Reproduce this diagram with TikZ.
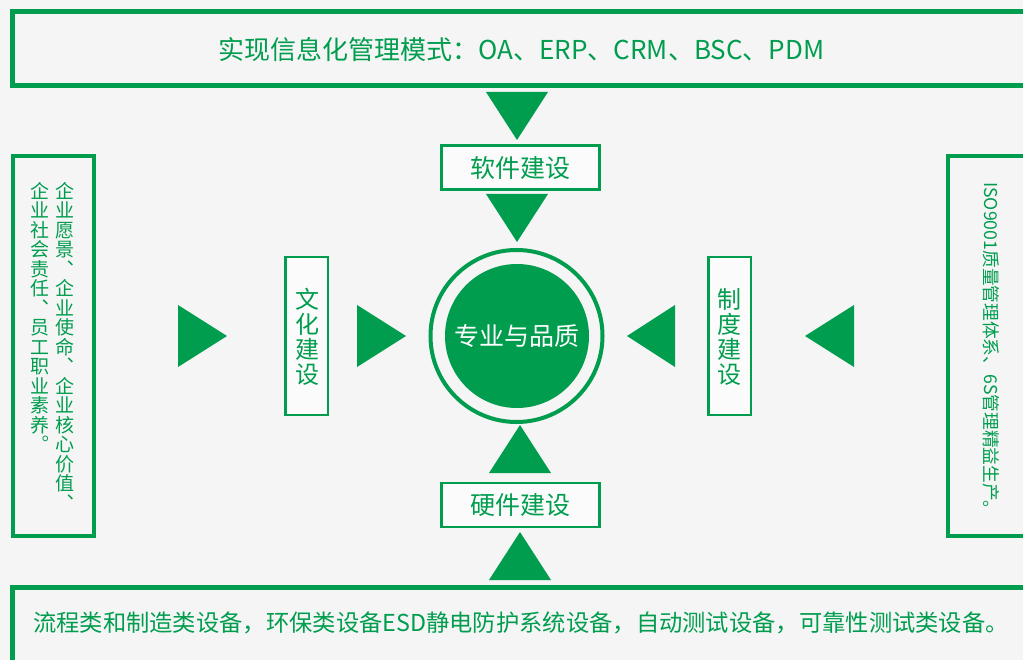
\documentclass[tikz,border=0pt]{standalone}
\usepackage{fontspec}
\newfontfamily\cjk{Noto Sans CJK SC}
\definecolor{gr}{HTML}{009D4E}
\definecolor{bg}{HTML}{F5F5F5}
\tikzset{
  bigbox/.style={draw=gr, line width=5pt, inner sep=0pt},
  sidebox/.style={draw=gr, line width=4pt, inner sep=0pt},
  smallbox/.style={draw=gr, line width=2.5pt, inner sep=0pt, fill=white!60!bg},
  tri/.style={fill=gr},
  gtext/.style={text=gr, inner sep=0pt},
}
\begin{document}
\begin{tikzpicture}[x=1pt,y=-1pt]
\useasboundingbox (0,0) rectangle (1023,660);
\clip (0,0) rectangle (1023,660);
\fill[bg] (0,0) rectangle (1023,660);

% top box
\node[bigbox, minimum width=1018pt, minimum height=74pt] (topbox) at (521.5,48.5) {};
\node[gtext, font=\cjk\fontsize{26}{30}\selectfont] (toptext) at (521.5,49.5) {实现信息化管理模式：OA、ERP、CRM、BSC、PDM};

% bottom box
\node[bigbox, minimum width=1018pt, minimum height=83pt] (botbox) at (521.5,628.5) {};
\node[gtext, font=\cjk\fontsize{23.3}{28}\selectfont] (bottext) at (521,623) {流程类和制造类设备，环保类设备ESD静电防护系统设备，自动测试设备，可靠性测试类设备。};

% left box
\node[sidebox, minimum width=81pt, minimum height=380pt] (leftbox) at (53.5,346) {};
\node[gtext, anchor=north, align=center, font=\cjk\fontsize{19}{19.5}\selectfont] (lcol1) at (65,182)
 {企\\业\\愿\\景\\︑\\企\\业\\使\\命\\︑\\企\\业\\核\\心\\价\\值\\︑};
\node[gtext, anchor=north, align=center, font=\cjk\fontsize{19}{19.5}\selectfont] (lcol2) at (40,182)
 {企\\业\\社\\会\\责\\任\\︑\\员\\工\\职\\业\\素\\养\\︒};

% right box
\node[sidebox, minimum width=92pt, minimum height=380pt] (rightbox) at (994,346) {};
\node[gtext, rotate=-90, anchor=west, font=\cjk\fontsize{17.7}{20}\selectfont] (rtext) at (991,182) {ISO9001质量管理体系、6S管理精益生产。};

% small boxes
\node[smallbox, minimum width=158pt, minimum height=44pt] (soft) at (520.5,167.5) {};
\node[gtext, font=\cjk\fontsize{25}{28}\selectfont] (softt) at (520.5,168) {软件建设};
\node[smallbox, minimum width=158pt, minimum height=44pt] (hard) at (520.5,505) {};
\node[gtext, font=\cjk\fontsize{25}{28}\selectfont] (hardt) at (520.5,505) {硬件建设};
\node[smallbox, minimum width=42.5pt, minimum height=157.5pt] (cult) at (306.5,336) {};
\node[gtext, align=center, font=\cjk\fontsize{24}{25}\selectfont] (cultt) at (307,337) {文\\化\\建\\设};
\node[smallbox, minimum width=42.5pt, minimum height=157.5pt] (sys) at (729.5,336) {};
\node[gtext, align=center, font=\cjk\fontsize{24}{25}\selectfont] (syst) at (729.5,337) {制\\度\\建\\设};

% centre circle
\node[circle, draw=gr, line width=4pt, minimum size=172pt, inner sep=0pt] (ring) at (516.5,336) {};
\node[circle, fill=gr, minimum size=144pt, inner sep=0pt, text=white, font=\cjk\fontsize{25}{28}\selectfont] (core) at (517,336) {专业与品质};

% triangles
\fill[tri] (486,92) -- (548,92) -- (517,140) -- cycle;
\fill[tri] (486,194) -- (548,194) -- (517,242) -- cycle;
\fill[tri] (489,473) -- (551,473) -- (520,425) -- cycle;
\fill[tri] (489,580) -- (551,580) -- (520,532) -- cycle;
\fill[tri] (178,305) -- (178,367) -- (227,336) -- cycle;
\fill[tri] (357,305) -- (357,367) -- (406,336) -- cycle;
\fill[tri] (675,305) -- (675,367) -- (627,336) -- cycle;
\fill[tri] (854,305) -- (854,367) -- (805,336) -- cycle;
\end{tikzpicture}
\end{document}
